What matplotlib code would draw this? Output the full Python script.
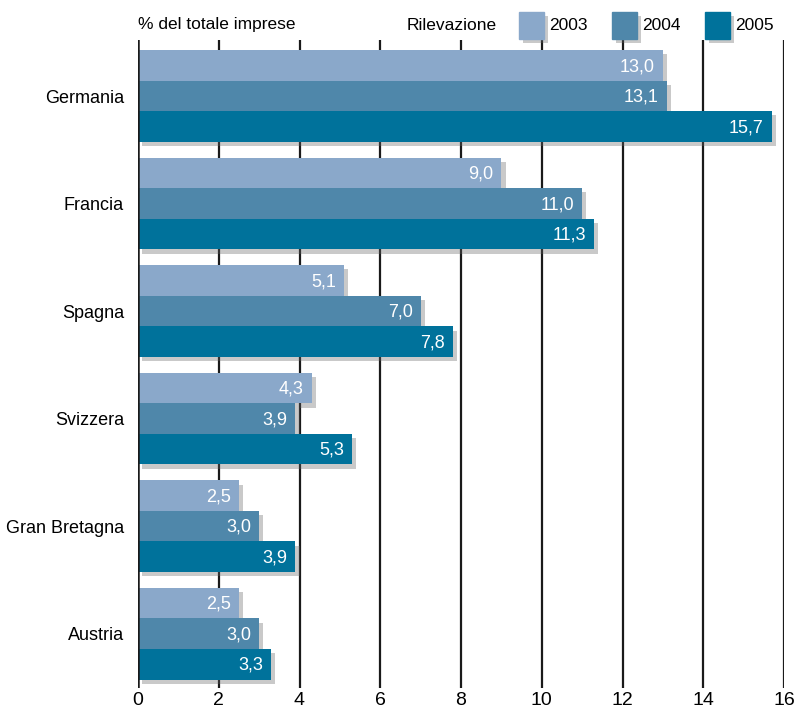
import matplotlib
matplotlib.use("Agg")
import matplotlib.pyplot as plt
import matplotlib.patheffects as pe
from matplotlib.patches import Rectangle
import numpy as np

plt.rcParams["font.family"] = ["Liberation Sans", "DejaVu Sans"]

countries = ["Germania", "Francia", "Spagna", "Svizzera", "Gran Bretagna", "Austria"]
years = ["2003", "2004", "2005"]
v2003 = [13.0, 9.0, 5.1, 4.3, 2.5, 2.5]
v2004 = [13.1, 11.0, 7.0, 3.9, 3.0, 3.0]
v2005 = [15.7, 11.3, 7.8, 5.3, 3.9, 3.3]
colors = ["#8AA8CA", "#4F87AA", "#00729B"]

fig = plt.figure(figsize=(7.94, 7.13), dpi=100)
ax = fig.add_axes([138 / 794, 1 - 688 / 713, 646 / 794, 648 / 713])

h = 0.284
shadow = [pe.SimplePatchShadow(offset=(3, -3), shadow_rgbFace="#666666", alpha=0.35), pe.Normal()]
y = np.arange(len(countries))
for k, (vals, col) in enumerate(zip([v2003, v2004, v2005], colors)):
    pos = y + (k - 1) * h
    bars = ax.barh(pos, vals, height=h, color=col, zorder=3)
    for b in bars:
        b.set_path_effects(shadow)
    for p, v in zip(pos, vals):
        ax.text(v - 0.2, p + 0.01, f"{v:.1f}".replace(".", ","), ha="right", va="center",
                color="white", fontsize=13, zorder=4)

for xv in range(2, 17, 2):
    ax.axvline(xv, color="#1a1a1a", lw=1.6, zorder=1)
ax.axvline(0, color="#1a1a1a", lw=1.8, zorder=5)

ax.set_xlim(0, 16)
ax.set_ylim(5.505, -0.521)
ax.set_xticks(range(0, 17, 2))
ax.set_yticks(y)
ax.set_yticklabels(countries, fontsize=13)
ax.tick_params(axis="x", length=0, labelsize=14, pad=3)
ax.tick_params(axis="y", length=0, pad=10)
for s in ax.spines.values():
    s.set_visible(False)

# header line with unit and legend
fig.text(138 / 794, 1 - 25 / 713, "% del totale imprese", fontsize=12.5, va="center", ha="left")
fig.text(497 / 794, 1 - 25 / 713, "Rilevazione", fontsize=12.5, va="center", ha="right")
for xs, col, yr in zip([519, 612, 705], colors, years):
    r = Rectangle((xs / 794, 1 - 39 / 713), 25 / 794, 27 / 713, transform=fig.transFigure,
                  color=col, path_effects=shadow)
    fig.patches.append(r)
    fig.text((xs + 30) / 794, 1 - 25 / 713, yr, fontsize=12.5, va="center", ha="left")

fig.savefig("out.png", dpi=100)
